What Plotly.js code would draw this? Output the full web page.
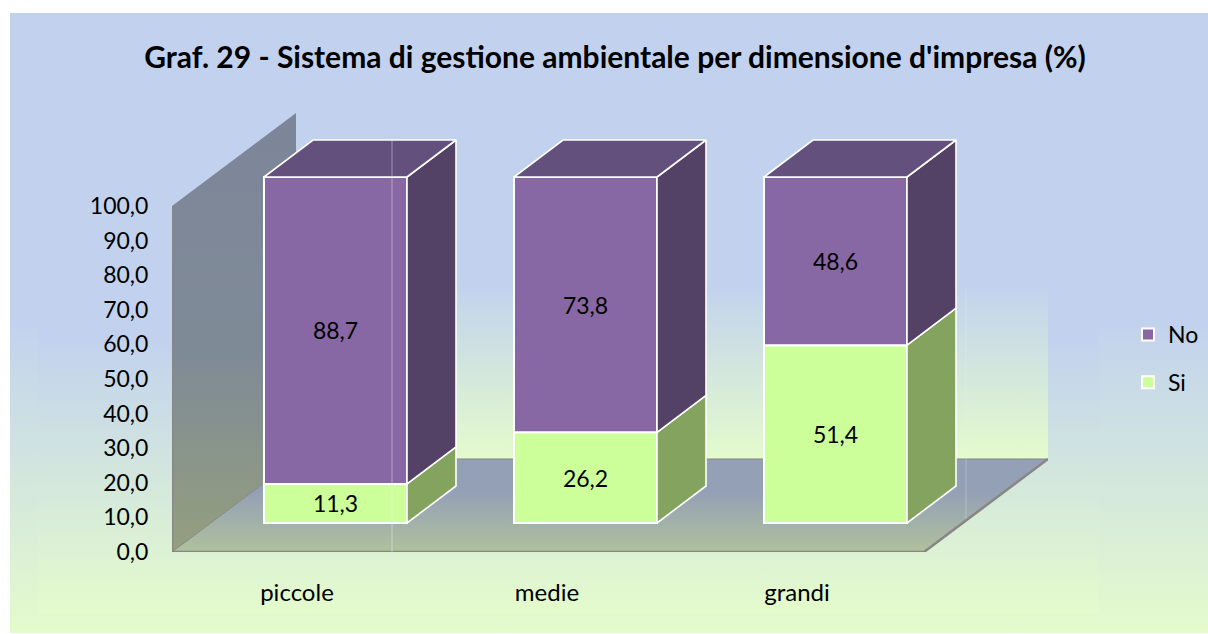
<!DOCTYPE html>
<html><head><meta charset="utf-8">
<script src="https://cdn.plot.ly/plotly-3.0.1.min.js"></script>
<style>
html,body{margin:0;padding:0;background:#fff;width:1208px;height:634px;overflow:hidden}
#bg1{position:absolute;left:10px;top:13px;width:1198px;height:620px;background:linear-gradient(#C2D2EE 50%,#E4FBCC 100%)}
#bg2{position:absolute;left:38px;top:67px;width:1061px;height:546px;background:linear-gradient(#C2D2EE 50%,#E4FBCC 100%)}
#chart{position:absolute;left:0;top:0;width:1208px;height:634px}
</style></head><body>
<div id="bg1"></div><div id="bg2"></div><div id="chart"></div>
<script>
const categories = ['piccole','medie','grandi'];
const si = [11.3, 26.2, 51.4];
const no = [88.7, 73.8, 48.6];
const yTicks = [0,10,20,30,40,50,60,70,80,90,100];
const titleText = "Graf. 29 - Sistema di gestione ambientale per dimensione d'impresa (%)";

// projection of the 3-D box onto the 2-D axes
const pxX = 250, pxY = 3.46;
const wallDX = 124/pxX, wallDY = 93/pxY;
const barShiftX = 38.5/pxX, barShiftY = 29/pxY, barW = 143/pxX;
const barDX = 49/pxX, barDY = 37/pxY;
const xMin = -0.5, xFront = 2.508, xMax = 2.508 + wallDX, yMax = wallDY + 100;
const FONT = 'Lato, Carlito, Calibri, sans-serif';

const cx = categories.map((c,i)=>i+barShiftX);
const base1 = categories.map(()=>barShiftY);
const base2 = si.map(v=>barShiftY+v);
const tops = si.map((v,i)=>barShiftY+v+no[i]);

function poly(pts){return {x:pts.map(p=>p[0]),y:pts.map(p=>p[1])};}
function sideFaces(lo,hi){
  const xs=[],ys=[];
  cx.forEach((c,i)=>{
    const r=c+barW/2;
    xs.push(r,r+barDX,r+barDX,r,r,null);
    ys.push(lo[i],lo[i]+barDY,hi[i]+barDY,hi[i],lo[i],null);
  });
  return {x:xs,y:ys};
}
function topFaces(){
  const xs=[],ys=[];
  cx.forEach((c,i)=>{
    const l=c-barW/2,r=c+barW/2,t=tops[i];
    xs.push(l,l+barDX,r+barDX,r,l,null);
    ys.push(t,t+barDY,t+barDY,t,t,null);
  });
  return {x:xs,y:ys};
}
function wall(pts,scale,start,stop){
  return Object.assign(poly(pts),{type:'scatter',mode:'none',fill:'toself',
    fillgradient:{type:'vertical',colorscale:scale,start:start,stop:stop},
    showlegend:false,hoverinfo:'skip',xaxis:'x',yaxis:'y'});
}
function edge(pts,w){
  return Object.assign(poly(pts),{type:'scatter',mode:'lines',line:{color:'#868686',width:w},
    showlegend:false,hoverinfo:'skip',xaxis:'x',yaxis:'y',cliponaxis:false});
}
function face(f,color){
  return Object.assign(f,{type:'scatter',mode:'lines',fill:'toself',fillcolor:color,
    line:{color:'#ffffff',width:1.6},showlegend:false,hoverinfo:'skip',xaxis:'x2',yaxis:'y2',cliponaxis:false});
}
function bars(name,vals,base,color,rank){
  return {type:'bar',name:name,x:cx,y:vals,base:base,width:barW,xaxis:'x2',yaxis:'y2',
    legendgroup:name,legendrank:rank,
    marker:{color:color,line:{color:'#ffffff',width:2}},
    text:vals.map(v=>v.toFixed(1).replace('.',',')),textposition:'inside',insidetextanchor:'middle',
    textangle:0,constraintext:'none',textfont:{family:FONT,size:23,color:'#000'},
    hovertemplate:name+': %{text}<extra></extra>',cliponaxis:false};
}

const data = [
  wall([[xMin+wallDX,wallDY],[xMax,wallDY],[xMax,yMax],[xMin+wallDX,yMax],[xMin+wallDX,wallDY]],
       [[0,'#C2D2EE'],[0.5,'#C2D2EE'],[1,'#E4FBCC']], yMax, wallDY),
  wall([[xMin,0],[xMin+wallDX,wallDY],[xMin+wallDX,yMax],[xMin,100],[xMin,0]],
       [[0,'#7D8699'],[0.55,'#7F8A97'],[1,'#949F7E']], yMax, 0),
  wall([[xMin,0],[xMin+wallDX,wallDY],[xMax,wallDY],[xFront,0],[xMin,0]],
       [[0,'#94A0B6'],[0.35,'#94A0B6'],[1,'#B0C19C']], wallDY, 0),
  edge([[xMin,100],[xMin,0],[xFront,0],[xMax,wallDY]],2.5),
  edge([[xMin,0],[xMin+wallDX,wallDY],[xMax,wallDY]],1),
  bars('Si',si,base1,'#CCFF99',2),
  bars('No',no,base2,'#8868A4',1),
  face(sideFaces(base1,base2),'#84A35F'),
  face(sideFaces(base2,tops),'#544266'),
  face(topFaces(),'#63507C')
];

const layout = {
  width:1208,height:634,autosize:false,
  margin:{l:0,r:0,t:0,b:0,pad:0},
  paper_bgcolor:'rgba(0,0,0,0)',plot_bgcolor:'rgba(0,0,0,0)',
  separators:',.',
  font:{family:FONT,size:23,color:'#000'},
  barmode:'overlay',
  title:{text:'<b>'+titleText+'</b>',x:615/1208,xanchor:'center',y:1-57/634,yanchor:'middle',yref:'container',xref:'container',
         font:{family:FONT,size:30,color:'#000'}},
  xaxis:{domain:[172/1208,(172+(xMax-xMin)*pxX)/1208],range:[xMin,xMax],tickmode:'array',tickvals:[0,1,2],ticktext:categories,
         ticks:'outside',ticklen:19,tickcolor:'rgba(0,0,0,0)',showgrid:false,zeroline:false,showline:false,fixedrange:true,
         tickfont:{family:FONT,size:24,color:'#000'}},
  yaxis:{domain:[(634-552)/634,(634-552+yMax*pxY)/634],range:[0,yMax],tickmode:'array',tickvals:yTicks,tickformat:'.1f',
         ticks:'outside',ticklen:18,tickcolor:'rgba(0,0,0,0)',showgrid:false,zeroline:false,showline:false,fixedrange:true,
         tickfont:{family:FONT,size:23,color:'#000'}},
  xaxis2:{overlaying:'x',range:[xMin,xMax],visible:false,fixedrange:true},
  yaxis2:{overlaying:'y',range:[0,yMax],visible:false,fixedrange:true},
  showlegend:true,
  legend:{x:1128/1208,xanchor:'left',y:1-313/634,yanchor:'top',traceorder:'grouped',tracegroupgap:15,
          bgcolor:'rgba(0,0,0,0)',borderwidth:0,font:{family:FONT,size:23,color:'#000'},itemclick:false,itemdoubleclick:false},
  shapes:[
    {type:'line',xref:'x',yref:'y',layer:'above',x0:(392-172)/pxX+xMin,x1:(392-172)/pxX+xMin,y0:-0.6,y1:(552-140)/pxY,line:{color:'rgba(235,240,250,0.45)',width:1}},
    {type:'line',xref:'x',yref:'y',layer:'above',x0:(966-172)/pxX+xMin,x1:(966-172)/pxX+xMin,y0:(552-519)/pxY,y1:(552-290)/pxY,line:{color:'rgba(235,240,250,0.3)',width:1}}
  ]
};
Plotly.newPlot('chart',data,layout,{displayModeBar:false,responsive:false});
</script>
</body></html>
